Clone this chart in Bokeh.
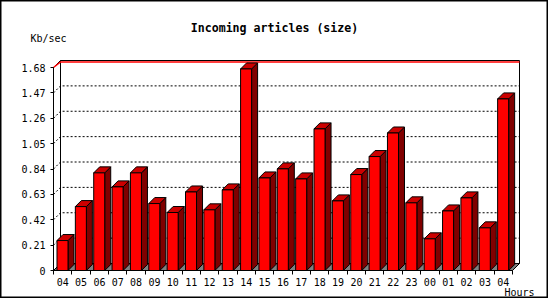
import numpy as np
from bokeh.plotting import figure
from bokeh.models import FixedTicker, Label, Range1d
from bokeh.embed import file_html
from bokeh.resources import INLINE

# ---- data ----
hours = ["04", "05", "06", "07", "08", "09", "10", "11", "12", "13", "14", "15",
         "16", "17", "18", "19", "20", "21", "22", "23", "00", "01", "02", "03", "04"]
values = [0.248, 0.529, 0.808, 0.692, 0.808, 0.554, 0.480, 0.650, 0.502, 0.667,
          1.668, 0.766, 0.841, 0.758, 1.172, 0.576, 0.794, 0.943, 1.138, 0.560,
          0.262, 0.493, 0.601, 0.353, 1.420]
y_ticks = [0, 0.21, 0.42, 0.63, 0.84, 1.05, 1.26, 1.47, 1.68]
y_labels = ["0", "0.21", "0.42", "0.63", "0.84", "1.05", "1.26", "1.47", "1.68"]
title_text = "Incoming articles (size)"
y_unit = "Kb/sec"
x_unit = "Hours"

# ---- layout (pixels) ----
W, H = 548, 298
ORIGIN_X, ORIGIN_Y = 53, 270        # canvas position of (0, 0)
n = len(hours)
ymax = y_ticks[-1]
bar_px = 18.36                      # px per category slot
unit_px = 203.0 / ymax              # px per value unit

def dx(px):
    return px / bar_px

def dy(px):
    return px / unit_px

def at_x(px):
    return (px - ORIGIN_X) / bar_px

def at_y(py):
    return (ORIGIN_Y - py) / unit_px

DXW, DYW = dx(7), dy(7)      # wall depth
DXB, DYB = dx(6), dy(6)      # bar depth

FONT = "DejaVu Sans Mono"

p = figure(width=W, height=H, output_backend="svg", toolbar_location=None,
           x_range=Range1d(at_x(0), at_x(W)), y_range=Range1d(at_y(H), at_y(0)),
           min_border=0,
           background_fill_color="white", border_fill_color="white",
           outline_line_color="black", outline_line_width=2, title=None)
p.grid.visible = False

# back wall
p.quad(left=[DXW], right=[n + DXW], bottom=[DYW], top=[ymax + DYW],
       fill_color="white", line_color="black", line_width=1)
# left wall
p.patch([0, DXW, DXW, 0], [0, DYW, ymax + DYW, ymax],
        fill_color="white", line_color="black", line_width=1)
# grid lines (dotted) on left wall and back wall
gx, gy = [], []
for t in y_ticks[1:-1]:
    gx.append([0, DXW, n + DXW])
    gy.append([t, t + DYW, t + DYW])
p.multi_line(gx, gy, line_color="black", line_width=1, line_dash="2 2")
# red top line
p.line([0, DXW, n + DXW], [ymax, ymax + DYW - dy(1.5), ymax + DYW - dy(1.5)],
       line_color="#ff0000", line_width=1.5)
# floor
p.patch([0, n, n + DXW, DXW], [0, 0, DYW, DYW],
        fill_color="#808080", line_color="black", line_width=1)

# bars
idx = np.arange(n)
vals = np.array(values)
lefts = idx + 0.19
rights = idx + 0.79
top_xs = [[l, r, r + DXB, l + DXB] for l, r in zip(lefts, rights)]
top_ys = [[v, v, v + DYB, v + DYB] for v in vals]
side_xs = [[r, r + DXB, r + DXB, r] for r in rights]
side_ys = [[0, DYB, v + DYB, v] for v in vals]
p.patches(side_xs, side_ys, fill_color="#800000", line_color="black", line_width=1)
p.patches(top_xs, top_ys, fill_color="#cc0000", line_color="black", line_width=1)
p.quad(left=lefts, right=rights, bottom=0, top=vals,
       fill_color="#ff0000", line_color="black", line_width=1)

# axes (placed at the data origin, inside the full-canvas frame)
xa = p.xaxis[0]
xa.fixed_location = 0
xa.ticker = FixedTicker(ticks=[i + 0.5 for i in range(n)],
                        minor_ticks=[float(i) for i in range(n + 1)])
xa.major_label_overrides = {i + 0.5: h for i, h in enumerate(hours)}
xa.bounds = (0, n)
xa.major_tick_line_color = None
xa.major_tick_in = 0
xa.major_tick_out = 0
xa.minor_tick_line_color = "black"
xa.minor_tick_in = 0
xa.minor_tick_out = 4
xa.major_label_standoff = 3
xa.axis_line_color = "black"

ya = p.yaxis[0]
ya.fixed_location = 0
ya.ticker = FixedTicker(ticks=y_ticks)
ya.major_label_overrides = dict(zip(y_ticks, y_labels))
ya.bounds = (0, ymax)
ya.major_tick_in = 0
ya.major_tick_out = 3
ya.minor_tick_line_color = None
ya.major_label_standoff = 5
ya.axis_line_color = "black"
ya.major_tick_line_color = "black"

for ax in (xa, ya):
    ax.major_label_text_font = FONT
    ax.major_label_text_font_size = "10px"
    ax.major_label_text_color = "black"

# texts
p.add_layout(Label(x=at_x(274), y=at_y(27), text=title_text, text_font=FONT,
                   text_font_size="11.6px", text_font_style="bold",
                   text_color="black", text_align="center", text_baseline="middle"))
p.add_layout(Label(x=at_x(30), y=at_y(37.5), text=y_unit, text_font=FONT,
                   text_font_size="10px", text_color="black",
                   text_align="left", text_baseline="middle"))
p.add_layout(Label(x=at_x(504), y=at_y(291.5), text=x_unit, text_font=FONT,
                   text_font_size="10px", text_color="black",
                   text_align="left", text_baseline="middle"))

open("out.html", "w").write(file_html(p, INLINE))
